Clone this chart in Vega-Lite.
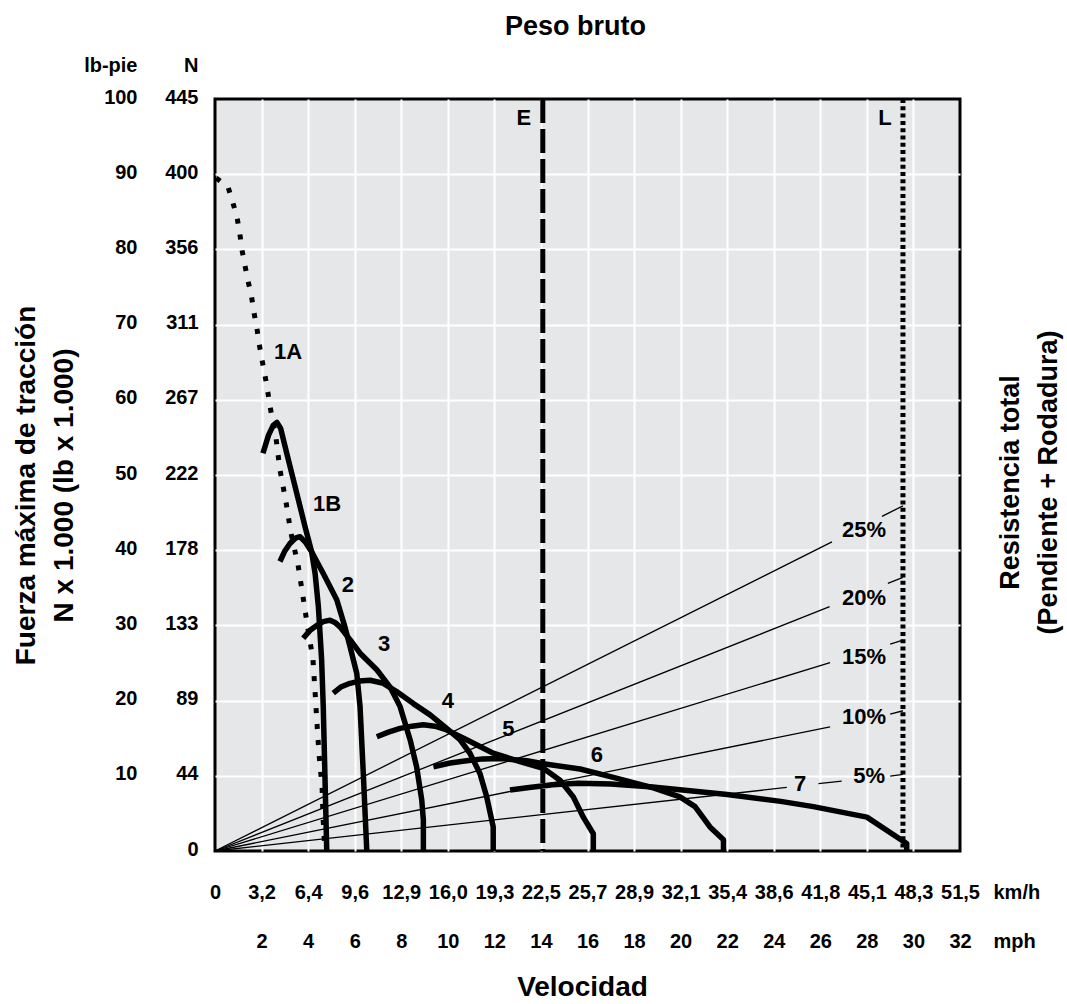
{
  "$schema": "https://vega.github.io/schema/vega-lite/v6.json",
  "width": 745,
  "height": 752,
  "autosize": {"type": "none"},
  "padding": {"left": 215, "top": 99, "right": 107, "bottom": 153},
  "background": "white",
  "config": {
    "view": {"fill": "#e6e7e8", "stroke": "#000000", "strokeWidth": 3},
    "axis": {
      "domain": false, "ticks": false, "tickSize": 0, "grid": false,
      "labelFont": "Liberation Sans", "labelFontWeight": "bold", "labelFontSize": 20, "labelColor": "#000000",
      "labelFlush": false, "labelOverlap": false, "labelBound": false,
      "titleFont": "Liberation Sans", "titleFontWeight": "bold", "titleColor": "#000000", "titlePadding": 0
    },
    "text": {"font": "Liberation Sans", "fontWeight": "bold", "fontSize": 22, "color": "#000000"}
  },
  "datasets": {
    "gears": [
      {"g": "1B", "i": 1, "mph": 2.06, "lb": 52.9}, {"g": "1B", "i": 2, "mph": 2.3, "lb": 55.3}, {"g": "1B", "i": 3, "mph": 2.5, "lb": 56.6}, {"g": "1B", "i": 4, "mph": 2.66, "lb": 57.0}, {"g": "1B", "i": 5, "mph": 2.82, "lb": 56.2}, {"g": "1B", "i": 6, "mph": 3.08, "lb": 52.9}, {"g": "1B", "i": 7, "mph": 3.51, "lb": 47.6}, {"g": "1B", "i": 8, "mph": 3.87, "lb": 43.1}, {"g": "1B", "i": 9, "mph": 4.15, "lb": 39.8}, {"g": "1B", "i": 10, "mph": 4.3, "lb": 36.9}, {"g": "1B", "i": 11, "mph": 4.44, "lb": 32.5}, {"g": "1B", "i": 12, "mph": 4.51, "lb": 29.0}, {"g": "1B", "i": 13, "mph": 4.58, "lb": 25.4}, {"g": "1B", "i": 14, "mph": 4.65, "lb": 19.2}, {"g": "1B", "i": 15, "mph": 4.72, "lb": 10.3}, {"g": "1B", "i": 16, "mph": 4.8, "lb": 0},
      {"g": "2", "i": 1, "mph": 2.79, "lb": 38.5}, {"g": "2", "i": 2, "mph": 3.0, "lb": 39.9}, {"g": "2", "i": 3, "mph": 3.22, "lb": 40.9}, {"g": "2", "i": 4, "mph": 3.45, "lb": 41.6}, {"g": "2", "i": 5, "mph": 3.65, "lb": 41.8}, {"g": "2", "i": 6, "mph": 3.9, "lb": 41.0}, {"g": "2", "i": 7, "mph": 4.15, "lb": 39.8}, {"g": "2", "i": 8, "mph": 4.65, "lb": 36.9}, {"g": "2", "i": 9, "mph": 5.23, "lb": 33.4}, {"g": "2", "i": 10, "mph": 5.58, "lb": 29.8}, {"g": "2", "i": 11, "mph": 5.8, "lb": 27.2}, {"g": "2", "i": 12, "mph": 6.09, "lb": 23.6}, {"g": "2", "i": 13, "mph": 6.23, "lb": 19.2}, {"g": "2", "i": 14, "mph": 6.37, "lb": 10.3}, {"g": "2", "i": 15, "mph": 6.52, "lb": 0},
      {"g": "3", "i": 1, "mph": 3.79, "lb": 28.3}, {"g": "3", "i": 2, "mph": 4.1, "lb": 29.4}, {"g": "3", "i": 3, "mph": 4.37, "lb": 30.0}, {"g": "3", "i": 4, "mph": 4.65, "lb": 30.5}, {"g": "3", "i": 5, "mph": 4.94, "lb": 30.7}, {"g": "3", "i": 6, "mph": 5.15, "lb": 30.4}, {"g": "3", "i": 7, "mph": 5.37, "lb": 29.8}, {"g": "3", "i": 8, "mph": 5.8, "lb": 28.1}, {"g": "3", "i": 9, "mph": 6.23, "lb": 26.3}, {"g": "3", "i": 10, "mph": 6.95, "lb": 24.1}, {"g": "3", "i": 11, "mph": 7.52, "lb": 21.8}, {"g": "3", "i": 12, "mph": 7.95, "lb": 19.2}, {"g": "3", "i": 13, "mph": 8.38, "lb": 14.8}, {"g": "3", "i": 14, "mph": 8.66, "lb": 11.2}, {"g": "3", "i": 15, "mph": 8.88, "lb": 6.8}, {"g": "3", "i": 16, "mph": 8.95, "lb": 4.1}, {"g": "3", "i": 17, "mph": 8.95, "lb": 0},
      {"g": "4", "i": 1, "mph": 5.08, "lb": 21.0}, {"g": "4", "i": 2, "mph": 5.4, "lb": 21.8}, {"g": "4", "i": 3, "mph": 5.8, "lb": 22.3}, {"g": "4", "i": 4, "mph": 6.2, "lb": 22.6}, {"g": "4", "i": 5, "mph": 6.66, "lb": 22.7}, {"g": "4", "i": 6, "mph": 7.23, "lb": 22.3}, {"g": "4", "i": 7, "mph": 7.8, "lb": 21.2}, {"g": "4", "i": 8, "mph": 8.52, "lb": 19.6}, {"g": "4", "i": 9, "mph": 9.24, "lb": 18.1}, {"g": "4", "i": 10, "mph": 9.95, "lb": 16.3}, {"g": "4", "i": 11, "mph": 10.52, "lb": 14.8}, {"g": "4", "i": 12, "mph": 10.95, "lb": 13.0}, {"g": "4", "i": 13, "mph": 11.38, "lb": 10.3}, {"g": "4", "i": 14, "mph": 11.67, "lb": 7.2}, {"g": "4", "i": 15, "mph": 11.95, "lb": 3.2}, {"g": "4", "i": 16, "mph": 11.95, "lb": 0},
      {"g": "5", "i": 1, "mph": 6.95, "lb": 15.2}, {"g": "5", "i": 2, "mph": 7.45, "lb": 15.8}, {"g": "5", "i": 3, "mph": 7.95, "lb": 16.3}, {"g": "5", "i": 4, "mph": 8.45, "lb": 16.6}, {"g": "5", "i": 5, "mph": 8.95, "lb": 16.8}, {"g": "5", "i": 6, "mph": 9.45, "lb": 16.6}, {"g": "5", "i": 7, "mph": 9.95, "lb": 16.1}, {"g": "5", "i": 8, "mph": 10.81, "lb": 14.8}, {"g": "5", "i": 9, "mph": 11.95, "lb": 13.0}, {"g": "5", "i": 10, "mph": 13.1, "lb": 11.9}, {"g": "5", "i": 11, "mph": 14.1, "lb": 11.0}, {"g": "5", "i": 12, "mph": 14.82, "lb": 9.4}, {"g": "5", "i": 13, "mph": 15.39, "lb": 7.2}, {"g": "5", "i": 14, "mph": 15.82, "lb": 4.5}, {"g": "5", "i": 15, "mph": 16.25, "lb": 2.3}, {"g": "5", "i": 16, "mph": 16.25, "lb": 0},
      {"g": "6", "i": 1, "mph": 9.38, "lb": 11.2}, {"g": "6", "i": 2, "mph": 10.1, "lb": 11.7}, {"g": "6", "i": 3, "mph": 10.81, "lb": 12.0}, {"g": "6", "i": 4, "mph": 11.5, "lb": 12.25}, {"g": "6", "i": 5, "mph": 12.24, "lb": 12.3}, {"g": "6", "i": 6, "mph": 13.4, "lb": 12.0}, {"g": "6", "i": 7, "mph": 14.1, "lb": 11.6}, {"g": "6", "i": 8, "mph": 15.68, "lb": 10.9}, {"g": "6", "i": 9, "mph": 17.11, "lb": 9.8}, {"g": "6", "i": 10, "mph": 18.83, "lb": 8.4}, {"g": "6", "i": 11, "mph": 19.97, "lb": 7.2}, {"g": "6", "i": 12, "mph": 20.62, "lb": 5.9}, {"g": "6", "i": 13, "mph": 21.26, "lb": 3.2}, {"g": "6", "i": 14, "mph": 21.84, "lb": 1.5}, {"g": "6", "i": 15, "mph": 21.84, "lb": 0},
      {"g": "7", "i": 1, "mph": 12.67, "lb": 8.1}, {"g": "7", "i": 2, "mph": 13.5, "lb": 8.45}, {"g": "7", "i": 3, "mph": 14.5, "lb": 8.8}, {"g": "7", "i": 4, "mph": 15.6, "lb": 9.0}, {"g": "7", "i": 5, "mph": 17.0, "lb": 8.9}, {"g": "7", "i": 6, "mph": 18.8, "lb": 8.5}, {"g": "7", "i": 7, "mph": 22.0, "lb": 7.5}, {"g": "7", "i": 8, "mph": 24.3, "lb": 6.6}, {"g": "7", "i": 9, "mph": 25.7, "lb": 5.9}, {"g": "7", "i": 10, "mph": 28.0, "lb": 4.5}, {"g": "7", "i": 11, "mph": 29.71, "lb": 1.0}, {"g": "7", "i": 12, "mph": 29.71, "lb": 0}
    ],
    "dotted": [
      {"i": 1, "mph": 0.05, "lb": 89.5}, {"i": 2, "mph": 0.56, "lb": 88.3}, {"i": 3, "mph": 0.77, "lb": 86.2}, {"i": 4, "mph": 0.95, "lb": 84.2}, {"i": 5, "mph": 1.07, "lb": 82.0}, {"i": 6, "mph": 1.16, "lb": 79.9}, {"i": 7, "mph": 1.29, "lb": 77.8}, {"i": 8, "mph": 1.42, "lb": 75.8}, {"i": 9, "mph": 1.57, "lb": 73.7}, {"i": 10, "mph": 1.68, "lb": 71.5}, {"i": 11, "mph": 1.8, "lb": 69.5}, {"i": 12, "mph": 1.9, "lb": 67.4}, {"i": 13, "mph": 2.02, "lb": 65.3}, {"i": 14, "mph": 2.15, "lb": 63.2}, {"i": 15, "mph": 2.27, "lb": 61.0}, {"i": 16, "mph": 2.37, "lb": 59.0}, {"i": 17, "mph": 2.62, "lb": 54.9}, {"i": 18, "mph": 2.79, "lb": 50.7}, {"i": 19, "mph": 3.05, "lb": 46.4}, {"i": 20, "mph": 3.26, "lb": 42.3}, {"i": 21, "mph": 3.57, "lb": 38.0}, {"i": 22, "mph": 3.78, "lb": 33.8}, {"i": 23, "mph": 4.0, "lb": 29.4}, {"i": 24, "mph": 4.21, "lb": 25.4}, {"i": 25, "mph": 4.3, "lb": 21.1}, {"i": 26, "mph": 4.38, "lb": 17.0}, {"i": 27, "mph": 4.47, "lb": 12.8}, {"i": 28, "mph": 4.6, "lb": 8.5}, {"i": 29, "mph": 4.64, "lb": 4.5}, {"i": 30, "mph": 4.72, "lb": 0.1}
    ],
    "grades": [
      {"seg": "25a", "i": 1, "mph": 0, "lb": 0}, {"seg": "25a", "i": 2, "mph": 26.5, "lb": 41.1},
      {"seg": "25b", "i": 1, "mph": 28.65, "lb": 44.5}, {"seg": "25b", "i": 2, "mph": 29.55, "lb": 45.9},
      {"seg": "20a", "i": 1, "mph": 0, "lb": 0}, {"seg": "20a", "i": 2, "mph": 26.4, "lb": 32.5},
      {"seg": "20b", "i": 1, "mph": 28.9, "lb": 35.6}, {"seg": "20b", "i": 2, "mph": 29.55, "lb": 36.4},
      {"seg": "15a", "i": 1, "mph": 0, "lb": 0}, {"seg": "15a", "i": 2, "mph": 26.42, "lb": 25.04},
      {"seg": "15b", "i": 1, "mph": 29.0, "lb": 27.5}, {"seg": "15b", "i": 2, "mph": 29.55, "lb": 28.05},
      {"seg": "10a", "i": 1, "mph": 0, "lb": 0}, {"seg": "10a", "i": 2, "mph": 26.42, "lb": 16.5},
      {"seg": "10b", "i": 1, "mph": 29.0, "lb": 18.2}, {"seg": "10b", "i": 2, "mph": 29.55, "lb": 18.65},
      {"seg": "5a", "i": 1, "mph": 0, "lb": 0}, {"seg": "5a", "i": 2, "mph": 24.56, "lb": 8.45},
      {"seg": "5b", "i": 1, "mph": 25.92, "lb": 8.95}, {"seg": "5b", "i": 2, "mph": 26.92, "lb": 9.3},
      {"seg": "5c", "i": 1, "mph": 29.0, "lb": 9.97}, {"seg": "5c", "i": 2, "mph": 29.55, "lb": 10.2}
    ],
    "rules": [
      {"name": "E", "mph": 14.08},
      {"name": "L", "mph": 29.55}
    ],
    "labels": [
      {"t": "1A", "mph": 3.14, "lb": 66.3},
      {"t": "1B", "mph": 4.81, "lb": 46.1},
      {"t": "2", "mph": 5.71, "lb": 35.4},
      {"t": "3", "mph": 7.26, "lb": 27.5},
      {"t": "4", "mph": 10.0, "lb": 19.9},
      {"t": "5", "mph": 12.6, "lb": 16.2},
      {"t": "6", "mph": 16.4, "lb": 12.8},
      {"t": "7", "mph": 25.13, "lb": 8.9},
      {"t": "25%", "mph": 27.88, "lb": 42.7},
      {"t": "20%", "mph": 27.88, "lb": 33.6},
      {"t": "15%", "mph": 27.88, "lb": 25.8},
      {"t": "10%", "mph": 27.88, "lb": 17.8},
      {"t": "5%", "mph": 28.1, "lb": 10.0},
      {"t": "E", "mph": 13.27, "lb": 97.5},
      {"t": "L", "mph": 28.78, "lb": 97.5}
    ]
  },
  "layer": [
    {
      "data": {"name": "grades"},
      "mark": {"type": "line", "color": "#000000", "strokeWidth": 1.3},
      "encoding": {
        "x": {"field": "mph", "type": "quantitative", "scale": {"domain": [0, 32], "nice": false, "zero": false},
          "axis": {"orient": "bottom", "values": [2, 4, 6, 8, 10, 12, 14, 16, 18, 20, 22, 24, 26, 28, 30], "grid": true, "gridColor": "#ffffff", "gridWidth": 2, "gridOpacity": 1, "labels": false,
            "title": "Velocidad", "titleFontSize": 28, "titleX": 367, "titleY": 144, "titleAlign": "center", "titleBaseline": "alphabetic", "titleAngle": 0}},
        "y": {"field": "lb", "type": "quantitative", "scale": {"domain": [0, 100], "nice": false},
          "axis": {"orient": "left", "values": [10, 20, 30, 40, 50, 60, 70, 80, 90], "grid": true, "gridColor": "#ffffff", "gridWidth": 2, "gridOpacity": 1, "labels": false,
            "title": ["Fuerza máxima de tracción", "N x 1.000 (lb x 1.000)"], "titleFontSize": 28, "titleAngle": 270, "titleX": -181, "titleY": 386, "titleAlign": "center", "titleBaseline": "alphabetic", "titleLineHeight": 38}},
        "detail": {"field": "seg", "type": "nominal"},
        "order": {"field": "i", "type": "quantitative"}
      }
    },
    {
      "data": {"name": "gears"},
      "mark": {"type": "line", "color": "#000000", "strokeWidth": 5.5, "strokeJoin": "round"},
      "encoding": {
        "x": {"field": "mph", "type": "quantitative", "scale": {"domain": [0, 32], "nice": false, "zero": false},
          "axis": {"orient": "bottom", "values": [0, 2, 4, 6, 8, 10, 12, 14, 16, 18, 20, 22, 24, 26, 28, 30, 32],
            "labelExpr": "['0','3,2','6,4','9,6','12,9','16,0','19,3','22,5','25,7','28,9','32,1','35,4','38,6','41,8','45,1','48,3','51,5'][round(datum.value/2)]",
            "labelBaseline": "alphabetic", "labelPadding": 47, "labelAlign": "center",
            "title": "km/h", "titleFontSize": 20, "titleX": 778, "titleY": 47, "titleAlign": "left", "titleBaseline": "alphabetic", "titleAngle": 0}},
        "y": {"field": "lb", "type": "quantitative", "scale": {"domain": [0, 100], "nice": false},
          "axis": {"orient": "left", "values": [0, 10, 20, 30, 40, 50, 60, 70, 80, 90, 100],
            "labelExpr": "['0','44','89','133','178','222','267','311','356','400','445'][round(datum.value/10)]",
            "labelPadding": 17, "labelAlign": "right", "labelBaseline": "middle", "labelOffset": -2,
            "title": "N", "titleFontSize": 20, "titleAngle": 0, "titleX": -17, "titleY": -28, "titleAlign": "right", "titleBaseline": "alphabetic"}},
        "detail": {"field": "g", "type": "nominal"},
        "order": {"field": "i", "type": "quantitative"}
      }
    },
    {
      "data": {"name": "dotted"},
      "mark": {"type": "line", "color": "#000000", "strokeWidth": 5, "strokeDash": [5, 11], "strokeCap": "butt"},
      "encoding": {
        "x": {"field": "mph", "type": "quantitative", "scale": {"domain": [0, 32], "nice": false, "zero": false},
          "axis": {"orient": "bottom", "values": [2, 4, 6, 8, 10, 12, 14, 16, 18, 20, 22, 24, 26, 28, 30, 32], "format": "d",
            "labelBaseline": "alphabetic", "labelPadding": 96, "labelAlign": "center",
            "title": "mph", "titleFontSize": 20, "titleX": 778, "titleY": 96, "titleAlign": "left", "titleBaseline": "alphabetic", "titleAngle": 0}},
        "y": {"field": "lb", "type": "quantitative", "scale": {"domain": [0, 100], "nice": false},
          "axis": {"orient": "left", "values": [10, 20, 30, 40, 50, 60, 70, 80, 90, 100], "format": "d",
            "labelPadding": 78, "labelAlign": "right", "labelBaseline": "middle", "labelOffset": -2,
            "title": "lb-pie", "titleFontSize": 20, "titleAngle": 0, "titleX": -78, "titleY": -28, "titleAlign": "right", "titleBaseline": "alphabetic"}},
        "order": {"field": "i", "type": "quantitative"}
      }
    },
    {
      "data": {"name": "rules"},
      "mark": {"type": "rule", "color": "#000000", "strokeWidth": 5, "strokeCap": "butt"},
      "encoding": {
        "x": {"field": "mph", "type": "quantitative", "scale": {"domain": [0, 32], "nice": false, "zero": false}, "axis": null},
        "strokeDash": {"field": "name", "type": "nominal", "scale": {"domain": ["E", "L"], "range": [[24, 6], [4, 3.3]]}, "legend": null}
      }
    },
    {
      "data": {"name": "labels"},
      "mark": {"type": "text", "align": "center", "baseline": "middle"},
      "encoding": {
        "x": {"field": "mph", "type": "quantitative", "scale": {"domain": [0, 32], "nice": false, "zero": false},
          "axis": {"orient": "top", "labels": false, "title": "Peso bruto", "titleFontSize": 27, "titleX": 360, "titleY": -65, "titleAlign": "center", "titleBaseline": "alphabetic", "titleAngle": 0}},
        "y": {"field": "lb", "type": "quantitative", "scale": {"domain": [0, 100], "nice": false},
          "axis": {"orient": "right", "labels": false, "title": ["Resistencia total", "(Pendiente + Rodadura)"], "titleFontSize": 27, "titleAngle": 270, "titleX": 58, "titleY": 383, "titleAlign": "center", "titleBaseline": "alphabetic", "titleLineHeight": 38}},
        "text": {"field": "t", "type": "nominal"}
      }
    }
  ],
  "resolve": {"axis": {"x": "independent", "y": "independent"}}
}
